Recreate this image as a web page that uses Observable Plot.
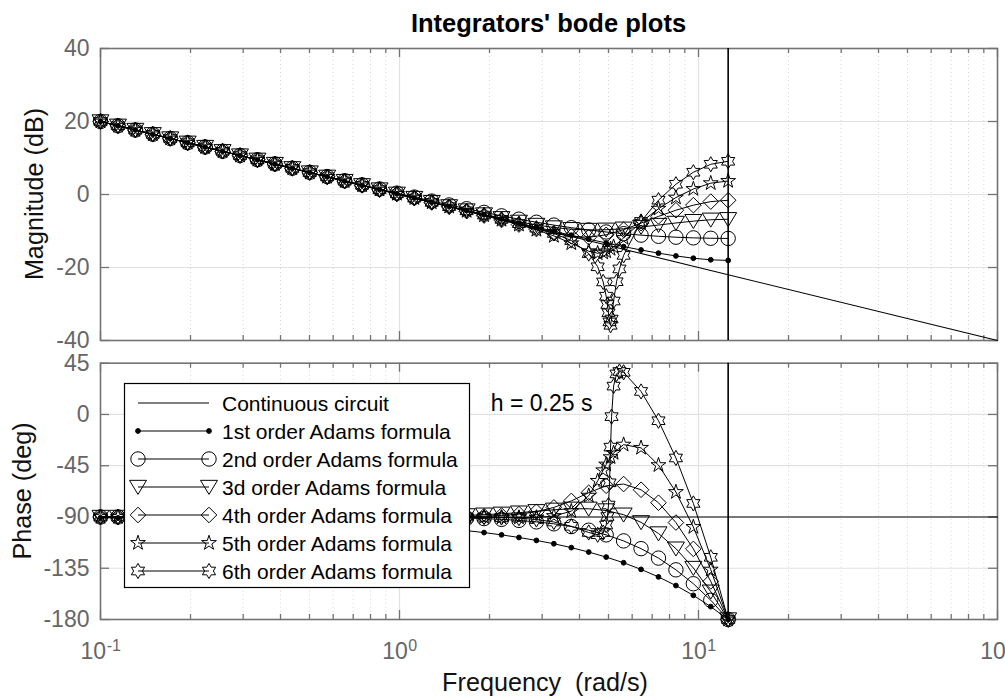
<!DOCTYPE html>
<html>
<head>
<meta charset="utf-8">
<script src="https://cdn.jsdelivr.net/npm/d3@7"></script>
<script src="https://cdn.jsdelivr.net/npm/@observablehq/plot@0.6"></script>
<style>
  html, body { margin: 0; padding: 0; background: #ffffff; }
  #chart { position: relative; width: 1005px; height: 696px; overflow: hidden; background: #ffffff; }
  #chart > svg { position: absolute; left: 0; }
</style>
</head>
<body>
<div id="chart"></div>
<script>
// ---------------- data ----------------
const titleText = "Integrators' bode plots";
const xLabelText = "Frequency  (rad/s)";
const magLabelText = "Magnitude (dB)";
const phaseLabelText = "Phase (deg)";
const seriesLabels = [
  "Continuous circuit",
  "1st order Adams formula",
  "2nd order Adams formula",
  "3d order Adams formula",
  "4th order Adams formula",
  "5th order Adams formula",
  "6th order Adams formula"
];
const annotation = [{f: 2.02, phase: 9.6, text: "h = 0.25 s"}];

const nyquist = 12.566;             // rad/s, vertical line
const xDomain = [0.1, 100];
const magDomain = [-40, 40];
const phaseDomain = [-180, 45];
const xMajor = [0.1, 1, 10, 100];
const xMinor = [0.2, 0.3, 0.4, 0.5, 0.6, 0.7, 0.8, 0.9, 2, 3, 4, 5, 6, 7, 8, 9, 20, 30, 40, 50, 60, 70, 80, 90];
const xTickExps = [-1, 0, 1, 2];
const magTicks = [-40, -20, 0, 20, 40];
const phaseTicks = [-180, -135, -90, -45, 0, 45];

// continuous circuit 1/s
const contFreq = [0.1, 100];
const contMag = [20, -40];
const contPhase = [-90, -90];

// common frequency grid of the discrete integrators (rad/s)
const freq = [0.1, 0.1144, 0.1308, 0.1496, 0.1711, 0.1957, 0.2239, 0.256, 0.2928, 0.3349, 0.3831, 0.4381, 0.5011, 0.5731, 0.6555, 0.7497, 0.8575, 0.9801, 1.121, 1.282, 1.466, 1.677, 1.918, 2.194, 2.509, 2.87, 3.283, 3.755, 4.294, 4.911, 5.617, 6.425, 7.348, 8.404, 9.612, 10.99, 12.566];

const mag1 = [20.00, 18.83, 17.67, 16.50, 15.34, 14.17, 13.00, 11.84, 10.67, 9.50, 8.34, 7.17, 6.01, 4.85, 3.68, 2.52, 1.36, 0.19, -0.96, -2.12, -3.27, -4.43, -5.57, -6.71, -7.85, -8.97, -10.08, -11.17, -12.24, -13.27, -14.27, -15.20, -16.07, -16.83, -17.46, -17.89, -18.06];
const phase1 = [-90.7, -90.8, -90.9, -91.1, -91.2, -91.4, -91.6, -91.8, -92.1, -92.4, -92.7, -93.1, -93.6, -94.1, -94.7, -95.4, -96.1, -97.0, -98.0, -99.2, -100.5, -102.0, -103.7, -105.7, -108.0, -110.6, -113.5, -116.9, -120.8, -125.2, -130.2, -136.0, -142.6, -150.2, -158.8, -168.7, -180.0];

const mag2 = [20.00, 18.83, 17.67, 16.51, 15.35, 14.18, 13.01, 11.86, 10.69, 9.53, 8.37, 7.21, 6.07, 4.91, 3.77, 2.64, 1.51, 0.38, -0.71, -1.80, -2.86, -3.90, -4.89, -5.85, -6.76, -7.60, -8.38, -9.09, -9.72, -10.27, -10.74, -11.13, -11.45, -11.70, -11.88, -11.99, -12.04];
const phase2 = [-90.0, -90.0, -90.0, -90.0, -90.0, -90.0, -90.0, -90.0, -90.0, -90.0, -90.0, -90.0, -90.0, -90.0, -90.1, -90.1, -90.1, -90.2, -90.3, -90.5, -90.7, -91.0, -91.4, -92.1, -93.0, -94.3, -96.0, -98.4, -101.6, -105.7, -111.0, -117.8, -126.1, -136.4, -148.6, -163.1, -180.0];

const mag3 = [20.00, 18.83, 17.67, 16.50, 15.34, 14.17, 13.00, 11.84, 10.67, 9.50, 8.34, 7.17, 6.01, 4.84, 3.67, 2.51, 1.35, 0.19, -0.97, -2.12, -3.26, -4.39, -5.48, -6.52, -7.50, -8.35, -9.04, -9.51, -9.72, -9.66, -9.38, -8.91, -8.37, -7.80, -7.30, -6.92, -6.78];
const phase3 = [-90.0, -90.0, -90.0, -90.0, -90.0, -90.0, -90.0, -90.0, -90.0, -90.0, -90.0, -90.0, -90.0, -89.9, -89.9, -89.9, -89.8, -89.7, -89.5, -89.3, -89.0, -88.6, -88.0, -87.2, -86.2, -85.0, -83.7, -82.8, -82.8, -84.3, -88.0, -94.7, -104.5, -117.8, -134.8, -155.6, -180.0];

const mag4 = [20.00, 18.83, 17.67, 16.50, 15.34, 14.17, 13.00, 11.84, 10.67, 9.50, 8.34, 7.17, 6.01, 4.84, 3.67, 2.51, 1.34, 0.16, -1.01, -2.19, -3.37, -4.57, -5.77, -6.99, -8.24, -9.47, -10.61, -11.47, -11.71, -11.05, -9.64, -7.84, -6.00, -4.31, -2.92, -1.95, -1.58];
const phase4 = [-90.0, -90.0, -90.0, -90.0, -90.0, -90.0, -90.0, -90.0, -90.0, -90.0, -90.0, -90.0, -90.0, -90.0, -90.0, -90.0, -90.0, -90.0, -90.0, -89.9, -89.8, -89.6, -89.3, -88.7, -87.5, -85.4, -81.6, -75.9, -68.7, -62.6, -61.1, -66.1, -77.5, -94.9, -118.0, -146.5, -180.0];

const mag5 = [20.00, 18.83, 17.67, 16.50, 15.34, 14.17, 13.00, 11.84, 10.67, 9.50, 8.34, 7.17, 6.01, 4.84, 3.67, 2.51, 1.34, 0.17, -0.99, -2.16, -3.33, -4.51, -5.71, -6.94, -8.25, -9.67, -11.34, -13.37, -15.55, -15.59, -11.91, -7.59, -3.89, -0.85, 1.51, 3.10, 3.70];
const phase5 = [-90.0, -90.0, -90.0, -90.0, -90.0, -90.0, -90.0, -90.0, -90.0, -90.0, -90.0, -90.0, -90.0, -90.0, -90.0, -90.0, -90.0, -90.0, -90.0, -90.0, -90.1, -90.2, -90.2, -90.4, -90.5, -90.4, -89.2, -84.9, -71.3, -44.0, -26.5, -29.3, -44.5, -68.1, -98.8, -136.2, -180.0];
// extra (refined) points of the 5th order curve near its resonance
const dipFreq5 = [4.6, 4.8, 5.08, 5.2];
const dipMag5 = [-16.09, -15.90, -14.92, -14.31];
const dipPhase5 = [-58.3, -49.0, -37.5, -33.8];

const mag6 = [20.00, 18.83, 17.67, 16.50, 15.34, 14.17, 13.00, 11.84, 10.67, 9.50, 8.34, 7.17, 6.01, 4.84, 3.67, 2.51, 1.34, 0.17, -0.99, -2.16, -3.32, -4.48, -5.64, -6.81, -7.99, -9.23, -10.67, -12.62, -16.18, -27.86, -16.68, -7.38, -1.55, 2.81, 6.10, 8.28, 9.10];
const phase6 = [-90.0, -90.0, -90.0, -90.0, -90.0, -90.0, -90.0, -90.0, -90.0, -90.0, -90.0, -90.0, -90.0, -90.0, -90.0, -90.0, -90.0, -90.0, -90.0, -90.0, -90.0, -90.0, -90.2, -90.5, -91.0, -92.2, -94.4, -98.2, -103.6, -97.1, 37.0, 20.2, -5.5, -38.2, -78.1, -125.4, -180.0];
// extra (refined) points of the 6th order curve around its notch
const dipFreq6 = [4.6, 4.8, 4.96, 5.0, 5.04, 5.08, 5.12, 5.2, 5.32, 5.44];
const dipMag6 = [-19.80, -23.96, -30.14, -32.42, -34.90, -35.83, -34.12, -29.19, -23.90, -20.39];
const dipPhase6 = [-105.6, -103.7, -89.6, -79.5, -60.0, -28.7, -1.9, 24.9, 35.6, 37.7];

// ---------------- build tables ----------------
function buildSeries(mag, phase, dF = [], dM = [], dP = []) {
  const pts = freq.map((f, i) => ({f, mag: mag[i], phase: phase[i]}));
  dF.forEach((f, i) => pts.push({f, mag: dM[i], phase: dP[i]}));
  return pts.sort((a, b) => a.f - b.f);
}
const contPts = contFreq.map((f, i) => ({f, mag: contMag[i], phase: contPhase[i]}));
const series = [
  buildSeries(mag1, phase1),
  buildSeries(mag2, phase2),
  buildSeries(mag3, phase3),
  buildSeries(mag4, phase4),
  buildSeries(mag5, phase5, dipFreq5, dipMag5, dipPhase5),
  buildSeries(mag6, phase6, dipFreq6, dipMag6, dipPhase6)
];

// ---------------- marker shapes (MATLAB-like) ----------------
const rad = s => Math.sqrt(s / Math.PI);
const shapes = {
  circle: {draw(c, s) { const r = rad(s); c.moveTo(r, 0); c.arc(0, 0, r, 0, 2 * Math.PI); c.closePath(); }},
  triangleDown: {draw(c, s) { const r = rad(s); c.moveTo(-1.15 * r, -0.9 * r); c.lineTo(1.15 * r, -0.9 * r); c.lineTo(0, 1.0 * r); c.closePath(); }},
  diamond: {draw(c, s) { const r = rad(s) * 1.1; c.moveTo(0, -r); c.lineTo(r, 0); c.lineTo(0, r); c.lineTo(-r, 0); c.closePath(); }},
  pentagram: {draw(c, s) {
    const R = rad(s) * 1.05, ri = R * 0.382;
    for (let k = 0; k < 10; ++k) {
      const a = -Math.PI / 2 + k * Math.PI / 5, q = k % 2 ? ri : R;
      k ? c.lineTo(q * Math.cos(a), q * Math.sin(a)) : c.moveTo(q * Math.cos(a), q * Math.sin(a));
    }
    c.closePath();
  }},
  hexagram: {draw(c, s) {
    const R = rad(s) * 1.0, ri = R / Math.sqrt(3);
    for (let k = 0; k < 12; ++k) {
      const a = -Math.PI / 2 + k * Math.PI / 6, q = k % 2 ? ri : R;
      k ? c.lineTo(q * Math.cos(a), q * Math.sin(a)) : c.moveTo(q * Math.cos(a), q * Math.sin(a));
    }
    c.closePath();
  }}
};
const markerStyles = [
  {symbol: shapes.circle, r: 2.4, fill: "black"},
  {symbol: shapes.circle, r: 7.2, fill: "none"},
  {symbol: shapes.triangleDown, r: 7.4, fill: "none"},
  {symbol: shapes.diamond, r: 7.1, fill: "none"},
  {symbol: shapes.pentagram, r: 7.4, fill: "none"},
  {symbol: shapes.hexagram, r: 7.6, fill: "none"}
];

// ---------------- layout ----------------
const FONT = '"Liberation Sans", Arial, Helvetica, sans-serif';
const AX = "#737373";       // axes box & ticks
const TICK = "#666666";     // tick labels
const ML = 100, MR = 8, TOTAL_W = 1005;
const TICK_FS = 23, SUP_FS = 16;

function panel(key, yDomain, yTicks, height, marginTop, marginBottom, withXLabels) {
  const W = TOTAL_W - ML - MR, H = height - marginTop - marginBottom;
  const marks = [
    Plot.ruleX(xMinor, {stroke: "#d6d6d6", strokeDasharray: "1,3", strokeWidth: 1}),
    Plot.ruleX(xMajor.slice(1, -1), {stroke: "#e1e1e1", strokeWidth: 1.2}),
    Plot.ruleY(yTicks.slice(1, -1), {stroke: "#e1e1e1", strokeWidth: 1.2}),
    Plot.ruleX(xMajor, {stroke: AX, strokeWidth: 1.3, insetTop: H - 9}),
    Plot.ruleX(xMajor, {stroke: AX, strokeWidth: 1.3, insetBottom: H - 9}),
    Plot.ruleX(xMinor, {stroke: AX, strokeWidth: 1.3, insetTop: H - 5}),
    Plot.ruleX(xMinor, {stroke: AX, strokeWidth: 1.3, insetBottom: H - 5}),
    Plot.ruleY(yTicks, {stroke: AX, strokeWidth: 1.3, insetRight: W - 9}),
    Plot.ruleY(yTicks, {stroke: AX, strokeWidth: 1.3, insetLeft: W - 9}),
    Plot.frame({stroke: AX, strokeWidth: 1.6}),
    Plot.text(yTicks, {y: d => d, text: d => String(d), frameAnchor: "left", textAnchor: "end",
      dx: -11, fontSize: TICK_FS, fill: TICK}),
    Plot.line(contPts, {x: "f", y: key, stroke: "black", strokeWidth: 1.1}),
    Plot.ruleX([nyquist], {stroke: "black", strokeWidth: 1.6})
  ];
  series.forEach((pts, k) => {
    const st = markerStyles[k];
    marks.push(Plot.line(pts, {x: "f", y: key, stroke: "black", strokeWidth: 1}));
    marks.push(Plot.dot(pts, {x: "f", y: key, symbol: st.symbol, r: st.r, stroke: "black",
      fill: st.fill, strokeWidth: 1}));
  });
  if (withXLabels) {
    const baseW = 2 * 0.556 * TICK_FS;
    xTickExps.forEach(e => {
      const supW = String(e).split("").reduce((s, ch) => s + (ch === "-" ? 0.333 : 0.556) * SUP_FS, 0);
      const off = (baseW - supW) / 2;
      marks.push(Plot.text([e], {x: d => 10 ** d, text: () => "10", frameAnchor: "bottom",
        textAnchor: "end", lineAnchor: "bottom", dx: off, dy: 39, fontSize: TICK_FS, fill: TICK}));
      marks.push(Plot.text([e], {x: d => 10 ** d, text: d => String(d), frameAnchor: "bottom",
        textAnchor: "start", lineAnchor: "bottom", dx: off + 0.5, dy: 31, fontSize: SUP_FS, fill: TICK}));
    });
    marks.push(Plot.text(annotation, {x: "f", y: "phase", text: "text", textAnchor: "start",
      fontSize: 23, fill: "black"}));
  }
  return Plot.plot({
    width: TOTAL_W, height, marginLeft: ML, marginRight: MR, marginTop, marginBottom,
    x: {type: "log", domain: xDomain, axis: null},
    y: {domain: yDomain, axis: null},
    style: {fontFamily: FONT, background: "transparent", overflow: "visible"},
    marks
  });
}

const chartDiv = document.getElementById("chart");
const magPanel = panel("mag", magDomain, magTicks, 350, 48, 10, false);
magPanel.style.top = "0px";
chartDiv.appendChild(magPanel);
const phasePanel = panel("phase", phaseDomain, phaseTicks, 346, 12.7, 77, true);
phasePanel.style.top = "350px";
chartDiv.appendChild(phasePanel);

// ---------------- overlay: title, axis labels, legend ----------------
const ov = d3.create("svg").attr("width", TOTAL_W).attr("height", 696)
  .style("top", "0px").style("font-family", FONT).style("overflow", "hidden");
ov.append("text").attr("x", 548.5).attr("y", 32).attr("text-anchor", "middle")
  .attr("font-weight", "bold").attr("font-size", 25.5).attr("fill", "#000").text(titleText);
ov.append("text").attr("x", 545).attr("y", 691).attr("text-anchor", "middle")
  .attr("font-size", 25.2).attr("fill", "#111").style("white-space", "pre").text(xLabelText);
ov.append("text").attr("transform", "translate(43,194) rotate(-90)").attr("text-anchor", "middle")
  .attr("font-size", 25.2).attr("fill", "#111").text(magLabelText);
ov.append("text").attr("transform", "translate(31,491) rotate(-90)").attr("text-anchor", "middle")
  .attr("font-size", 25.2).attr("fill", "#111").text(phaseLabelText);

const lg = ov.append("g");
lg.append("rect").attr("x", 124.5).attr("y", 383.5).attr("width", 345).attr("height", 204)
  .attr("fill", "white").attr("stroke", "black").attr("stroke-width", 1.2);
function symPath(sym, r) { const p = d3.path(); sym.draw(p, r * r * Math.PI); return p.toString(); }
seriesLabels.forEach((label, k) => {
  const y = 403 + 28 * k;
  lg.append("line").attr("x1", 138).attr("x2", 209).attr("y1", y).attr("y2", y)
    .attr("stroke", "black").attr("stroke-width", 1.1);
  if (k > 0) {
    const st = markerStyles[k - 1];
    [138, 209].forEach(x => {
      lg.append("path").attr("d", symPath(st.symbol, st.r)).attr("transform", `translate(${x},${y})`)
        .attr("fill", st.fill).attr("stroke", "black").attr("stroke-width", 1);
    });
  }
  lg.append("text").attr("x", 222).attr("y", y + 7.5).attr("font-size", 21).attr("fill", "#000").text(label);
});
chartDiv.appendChild(ov.node());
</script>
</body>
</html>
